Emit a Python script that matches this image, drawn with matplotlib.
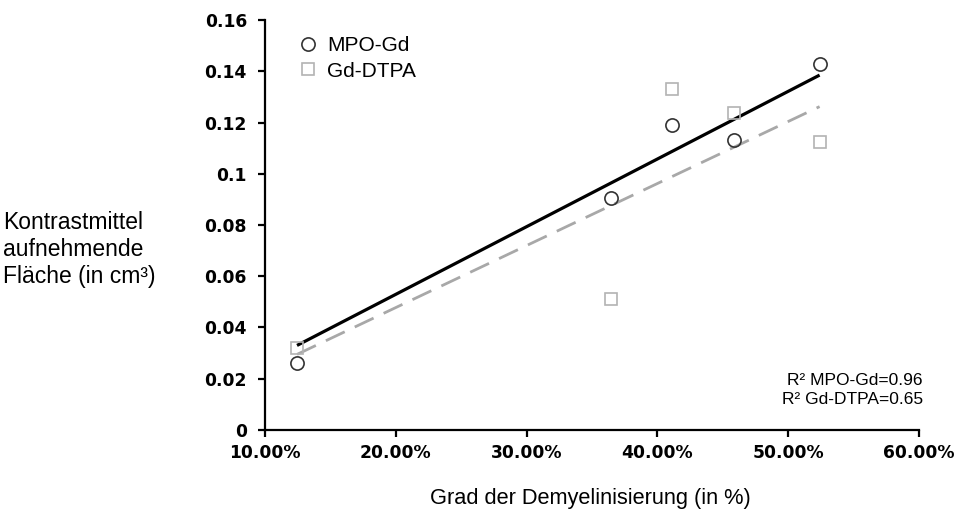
import numpy as np
import matplotlib as mpl
mpl.use("Agg")
import matplotlib.pyplot as plt
from matplotlib.ticker import FuncFormatter

# Grad der Demyelinisierung (in %)
demyel = [12.45, 36.45, 41.1, 45.85, 52.4]
# Kontrastmittel aufnehmende Flaeche (cm3)
mpo_gd = [0.026, 0.0905, 0.119, 0.113, 0.143]
gd_dtpa = [0.032, 0.051, 0.133, 0.1236, 0.1124]

# Trendlinien (Anfangs- und Endwert)
trend_x = [12.45, 52.4]
trend_mpo = [0.033, 0.1385]
trend_dtpa = [0.0295, 0.1262]

x_ticks = [10, 20, 30, 40, 50, 60]
y_ticks = [0, 0.02, 0.04, 0.06, 0.08, 0.1, 0.12, 0.14, 0.16]
y_labels = ['0', '0.02', '0.04', '0.06', '0.08', '0.1', '0.12', '0.14', '0.16']

r2_text = 'R² MPO-Gd=0.96\nR² Gd-DTPA=0.65'

sans = ['Liberation Sans', 'DejaVu Sans']


def main():
    fig = plt.figure(figsize=(9.59, 5.17), dpi=100)
    ax = fig.add_axes([0.2763, 0.1683, 0.682, 0.793])

    ax.plot(trend_x, trend_mpo, color='black', lw=2.3, zorder=2,
            solid_capstyle='butt')
    ax.plot(trend_x, trend_dtpa, color='#a8a8a8', lw=2.0,
            dashes=(7.5, 4), zorder=2)

    ax.plot(demyel, mpo_gd, 'o', ms=9.5, mfc='none', mec='#333333', mew=1.2,
            label='MPO-Gd', zorder=3)
    ax.plot(demyel, gd_dtpa, 's', ms=8.5, mfc='none', mec='#b3b3b3', mew=1.2,
            label='Gd-DTPA', zorder=3)

    ax.set_xlim(10, 60)
    ax.set_ylim(0, 0.16)
    ax.set_xticks(x_ticks)
    ax.xaxis.set_major_formatter(FuncFormatter(lambda v, p: '%.2f%%' % v))
    ax.set_yticks(y_ticks)
    ax.set_yticklabels(y_labels)

    for s in ['top', 'right']:
        ax.spines[s].set_visible(False)
    for s in ['left', 'bottom']:
        ax.spines[s].set_linewidth(1.6)
    ax.tick_params(direction='out', length=5, width=1.6)
    ax.tick_params(axis='y', pad=8)
    ax.tick_params(axis='x', pad=5)
    for lab in ax.get_xticklabels() + ax.get_yticklabels():
        lab.set_fontfamily('DejaVu Sans')
        lab.set_fontweight('bold')
        lab.set_fontsize(12.3)

    ax.legend(loc='upper left', bbox_to_anchor=(0.05, 0.96),
              frameon=False, prop={'family': sans, 'size': 15},
              handletextpad=0.4, labelspacing=0.3, handlelength=1.0,
              borderaxespad=0.0, borderpad=0.0)

    ax.text(1.006, 0.055, r2_text, transform=ax.transAxes, ha='right',
            va='bottom', family=sans, fontsize=12.5, linespacing=1.35)

    fig.text(0.003, 0.517, 'Kontrastmittel\naufnehmende\nFläche (in cm³)',
             ha='left', va='center', family=sans, fontsize=16.5,
             linespacing=1.22)
    fig.text(0.616, 0.035, 'Grad der Demyelinisierung (in %)',
             ha='center', va='center', family=sans, fontsize=15.7)

    fig.savefig('out.png', dpi=100)
    plt.close(fig)


if __name__ == '__main__':
    main()
